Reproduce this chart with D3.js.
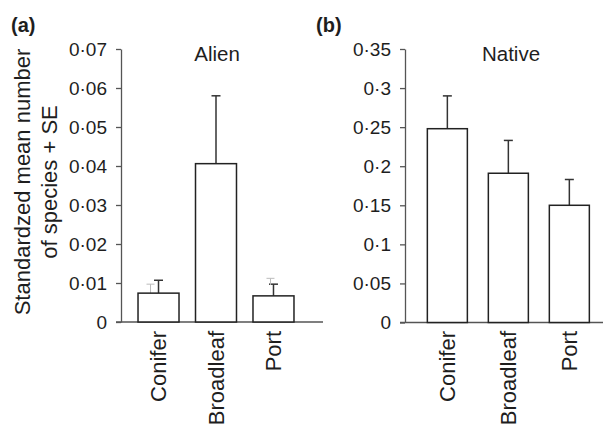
<!DOCTYPE html>
<html>
<head>
    <meta charset="utf-8">
    <title>Alien / Native</title>
    <script src="https://d3js.org/d3.v7.min.js"></script>
    <style>
        body { margin: 0; background: #fff; }
        text { font-family: "Liberation Sans", Arial, sans-serif; fill: #1e1e1e; }
    </style>
</head>
<body>
    <script>
        var categories = ["Conifer", "Broadleaf", "Port"];
        var alienMean = [0.0074, 0.0406, 0.0067];
        var alienSE = [0.0033, 0.0174, 0.0030];
        // faint second error bars visible in the original print
        var alienGhostTop = [0.0097, null, 0.0112];
        var alienGhostBottom = [0.0065, null, 0.0095];
        var nativeMean = [0.248, 0.191, 0.150];
        var nativeSE = [0.042, 0.042, 0.033];
        var alienTicks = [0, 0.01, 0.02, 0.03, 0.04, 0.05, 0.06, 0.07];
        var nativeTicks = [0, 0.05, 0.1, 0.15, 0.2, 0.25, 0.3, 0.35];

        var width = 603;
        var height = 425;

        var svg = d3.select("body").append("svg")
            .attr("width", width)
            .attr("height", height);

        function fmt(v) { return String(v).replace(".", "\u00b7"); }

        function panel(opt) {
            var x = d3.scaleBand()
                .domain(categories)
                .range(opt.xRange)
                .paddingInner(opt.padIn)
                .paddingOuter(0.15);
            var y = d3.scaleLinear()
                .domain([0, opt.max])
                .range([opt.y0, 49]);

            var g = svg.append("g");

            // baseline
            g.append("line")
                .attr("x1", opt.axisX - 5).attr("x2", opt.baseEnd)
                .attr("y1", y(0)).attr("y2", y(0))
                .attr("stroke", "#555").attr("stroke-width", 1.3);

            var ax = g.append("g")
                .attr("transform", "translate(" + opt.axisX + ",0)")
                .call(d3.axisLeft(y).tickValues(opt.ticks).tickFormat(fmt).tickSize(5).tickSizeOuter(0).tickPadding(9));
            ax.selectAll("path, line").attr("stroke", "#555").attr("stroke-width", 1.3);
            ax.selectAll("text").style("font-size", "19px").attr("fill", "#1e1e1e")
                .style("font-family", "Liberation Sans, Arial, sans-serif");

            // error bars
            g.selectAll("line.err")
                .data(categories)
                .enter().append("line")
                .attr("x1", function(d) { return x(d) + x.bandwidth() / 2; })
                .attr("x2", function(d) { return x(d) + x.bandwidth() / 2; })
                .attr("y1", function(d, i) { return y(opt.mean[i]); })
                .attr("y2", function(d, i) { return y(opt.mean[i] + opt.se[i]); })
                .attr("stroke", "#333").attr("stroke-width", 1.5);
            g.selectAll("line.cap")
                .data(categories)
                .enter().append("line")
                .attr("x1", function(d) { return x(d) + x.bandwidth() / 2 - 4.5; })
                .attr("x2", function(d) { return x(d) + x.bandwidth() / 2 + 4.5; })
                .attr("y1", function(d, i) { return y(opt.mean[i] + opt.se[i]); })
                .attr("y2", function(d, i) { return y(opt.mean[i] + opt.se[i]); })
                .attr("stroke", "#333").attr("stroke-width", 1.5);

            if (opt.ghostTop) {
                var gx = [-8, 0, -3];
                categories.forEach(function(d, i) {
                    if (opt.ghostTop[i] == null) return;
                    var cx = x(d) + x.bandwidth() / 2 + gx[i];
                    g.append("line")
                        .attr("x1", cx).attr("x2", cx)
                        .attr("y1", y(opt.ghostBottom[i])).attr("y2", y(opt.ghostTop[i]))
                        .attr("stroke", "#bbb").attr("stroke-width", 1);
                    g.append("line")
                        .attr("x1", cx - 4).attr("x2", cx + 4)
                        .attr("y1", y(opt.ghostTop[i])).attr("y2", y(opt.ghostTop[i]))
                        .attr("stroke", "#bbb").attr("stroke-width", 1);
                });
            }

            // bars
            g.selectAll("rect.bar")
                .data(categories)
                .enter().append("rect")
                .attr("class", "bar")
                .attr("x", function(d) { return x(d); })
                .attr("width", x.bandwidth())
                .attr("y", function(d, i) { return y(opt.mean[i]); })
                .attr("height", function(d, i) { return y(0) - y(opt.mean[i]); })
                .attr("fill", "#fff")
                .attr("stroke", "#222").attr("stroke-width", 1.5);

            // category labels
            g.selectAll("text.cat")
                .data(categories)
                .enter().append("text")
                .attr("class", "cat")
                .attr("transform", function(d) {
                    return "translate(" + (x(d) + x.bandwidth() / 2) + ",331) rotate(-90)";
                })
                .attr("dy", "0.35em")
                .attr("text-anchor", "end")
                .style("font-size", "22px")
                .text(function(d) { return d; });

            g.append("text")
                .attr("x", opt.titleX).attr("y", 61)
                .attr("text-anchor", "middle")
                .style("font-size", "20.5px")
                .text(opt.title);

            g.append("text")
                .attr("x", opt.tagX).attr("y", 32)
                .style("font-size", "20px").style("font-weight", "bold")
                .text(opt.tag);
        }

        panel({
            xRange: [129.4, 302.6], padIn: 0.287, axisX: 121, baseEnd: 323,
            max: 0.07, y0: 322, ticks: alienTicks,
            mean: alienMean, se: alienSE,
            ghostTop: alienGhostTop, ghostBottom: alienGhostBottom,
            title: "Alien", titleX: 217, tag: "(a)", tagX: 11
        });

        panel({
            xRange: [418.2, 598.5], padIn: 0.344, axisX: 405, baseEnd: 603,
            max: 0.35, y0: 322.5, ticks: nativeTicks,
            mean: nativeMean, se: nativeSE,
            title: "Native", titleX: 511, tag: "(b)", tagX: 316
        });

        // y axis title
        var yl = svg.append("text")
            .attr("transform", "translate(29.5,182) rotate(-90)")
            .attr("text-anchor", "middle")
            .style("font-size", "22px");
        yl.append("tspan").attr("x", 0).attr("y", 0).text("Standardzed mean number");
        yl.append("tspan").attr("x", 0).attr("y", 27.5).text("of species + SE");
    </script>
</body>
</html>
